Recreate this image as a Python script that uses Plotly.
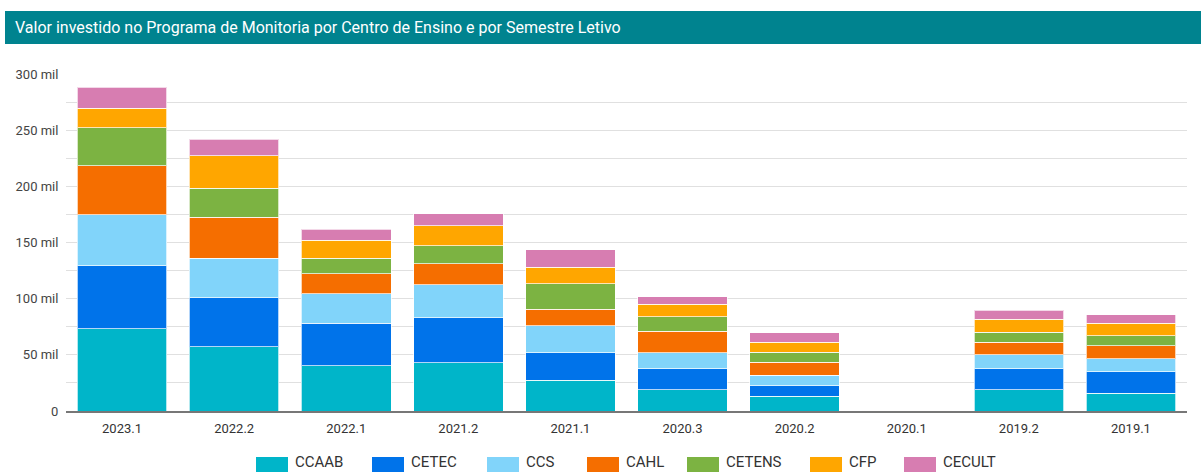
import plotly.graph_objects as go

semestres = ["2023.1", "2022.2", "2022.1", "2021.2", "2021.1", "2020.3", "2020.2", "2020.1", "2019.2", "2019.1"]

CCAAB  = [73300, 57000, 40100, 43000, 27600, 18700, 13100, 0, 19000, 15800]
CETEC  = [55800, 43600, 38000, 39800, 24300, 19000, 9400, 0, 18700, 19200]
CCS    = [45400, 35600, 26100, 29400, 23800, 14200, 9300, 0, 12400, 11300]
CAHL   = [43900, 36200, 17800, 18900, 15100, 19000, 11600, 500, 11100, 11600]
CETENS = [33800, 25900, 13900, 16100, 22300, 13100, 9100, 0, 8900, 8900]
CFP    = [17300, 29000, 16100, 17800, 14800, 11000, 8900, 0, 11800, 11300]
CECULT = [18700, 14600, 9800, 10600, 15700, 6800, 8300, 400, 7700, 7600]

series_names = ["CCAAB", "CETEC", "CCS", "CAHL", "CETENS", "CFP", "CECULT"]
series_values = [CCAAB, CETEC, CCS, CAHL, CETENS, CFP, CECULT]
series_colors = ["#00B5C9", "#0073EA", "#81D4FA", "#F56E00", "#7CB342", "#FFA600", "#D77DB1"]

y_tickvals = [0, 50000, 100000, 150000, 200000, 250000, 300000]
y_ticktext = ["0", "50 mil", "100 mil", "150 mil", "200 mil", "250 mil", "300 mil"]

title_text = "Valor investido no Programa de Monitoria por Centro de Ensino e por Semestre Letivo"

fig = go.Figure()
for name, vals, col in zip(series_names, series_values, series_colors):
    fig.add_trace(go.Bar(
        name=name, x=semestres, y=vals, showlegend=False,
        marker=dict(color=col, line=dict(color="rgba(255,255,255,0.7)", width=1)),
    ))

W, H = 1201, 472
L, R, T, B = 66, 14, 74, 61
pw, ph = W - L - R, H - T - B

def px_x(x):
    return (x - L) / pw

def px_y(y):
    return (H - B - y) / ph

shapes = [dict(type="rect", xref="paper", yref="paper",
               x0=px_x(5), x1=px_x(1201), y0=px_y(44), y1=px_y(11),
               fillcolor="#00838F", line=dict(width=0), layer="above")]
annotations = [dict(text=title_text, xref="paper", yref="paper",
                    x=px_x(13), y=px_y(28), xanchor="left", yanchor="middle",
                    showarrow=False, font=dict(family="Roboto, Arial, sans-serif", size=16, color="white"))]

# custom legend (wide swatches like the reference)
legend_x = [256, 372, 487, 587, 687, 810, 904]
for name, col, lx in zip(series_names, series_colors, legend_x):
    shapes.append(dict(type="rect", xref="paper", yref="paper",
                       x0=px_x(lx), x1=px_x(lx + 32), y0=px_y(473), y1=px_y(457),
                       fillcolor=col, line=dict(width=0)))
    annotations.append(dict(text=name, xref="paper", yref="paper",
                            x=px_x(lx + 37), y=px_y(461.5), xanchor="left", yanchor="middle",
                            showarrow=False, font=dict(size=15, color="#333333")))

fig.update_layout(
    width=W, height=H,
    barmode="stack", bargap=0.2,
    margin=dict(l=L, r=R, t=T, b=B, autoexpand=False),
    paper_bgcolor="white", plot_bgcolor="white",
    font=dict(family="Roboto, Arial, sans-serif", size=13, color="#444444"),
    showlegend=False,
    xaxis=dict(showgrid=False, showline=True, linecolor="#777777", linewidth=1.5,
               ticks="outside", ticklen=5, tickcolor="rgba(0,0,0,0)",
               tickfont=dict(size=13, color="#333333"), fixedrange=True),
    yaxis=dict(range=[0, 300000], tickvals=y_tickvals, ticktext=y_ticktext,
               showgrid=True, gridcolor="#E0E0E0", gridwidth=1,
               zeroline=False, showline=False,
               ticks="outside", ticklen=4, tickcolor="rgba(0,0,0,0)",
               minor=dict(dtick=25000, showgrid=True, gridcolor="#E0E0E0"),
               tickfont=dict(size=13, color="#444444"), fixedrange=True),
    shapes=shapes,
    annotations=annotations,
)

fig.write_html("out.html", config={"displayModeBar": False},
               post_script="document.body.style.margin='0';")
